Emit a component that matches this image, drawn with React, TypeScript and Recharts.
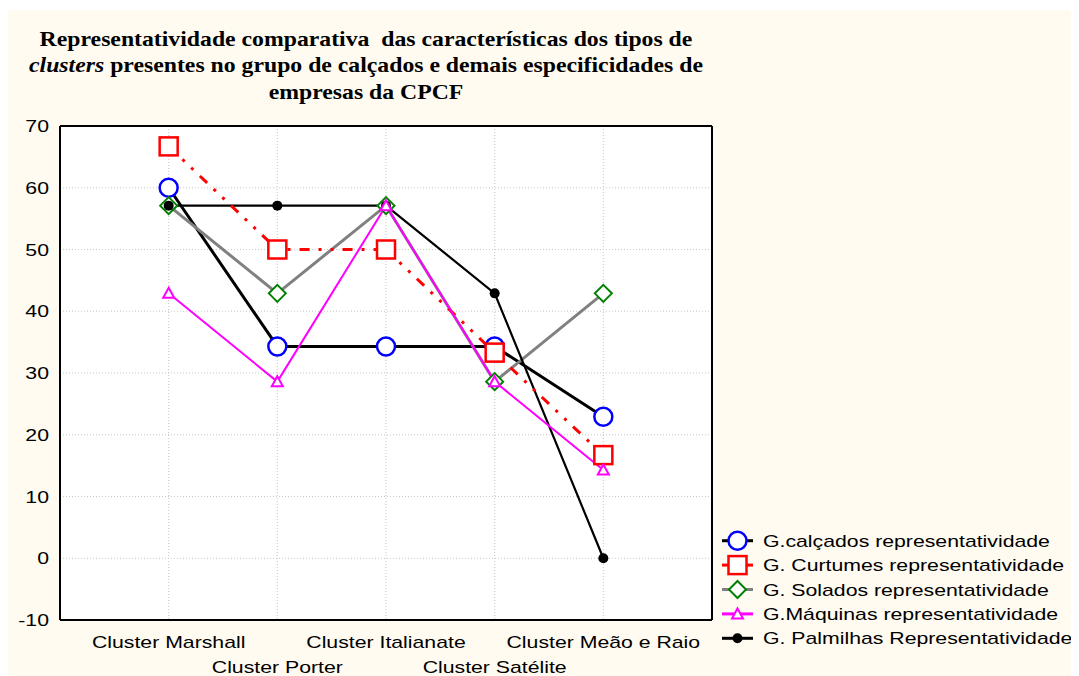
import React from 'react';
import { LineChart, Line, XAxis, YAxis, CartesianGrid } from 'recharts';

const categories = ['Cluster Marshall', 'Cluster Porter', 'Cluster Italianate', 'Cluster Satélite', 'Cluster Meão e Raio'];
const calcados = [60, 34.3, 34.3, 34.3, 22.9];
const curtumes = [66.7, 50, 50, 33.3, 16.7];
const solados = [57.1, 42.9, 57.1, 28.6, 42.9];
const maquinas = [42.9, 28.6, 57.1, 28.6, 14.3];
const palmilhas = [57.1, 57.1, 57.1, 42.9, 0];
const yTicks = [-10, 0, 10, 20, 30, 40, 50, 60, 70];
const xTicks = [1, 2, 3, 4, 5];
const legendNames = [
  'G.calçados representatividade',
  'G. Curtumes representatividade',
  'G. Solados representatividade',
  'G.Máquinas representatividade',
  'G. Palmilhas Representatividade',
];

const data = categories.map((c, i) => ({
  pos: i + 1,
  name: c,
  calcados: calcados[i],
  curtumes: curtumes[i],
  solados: solados[i],
  maquinas: maquinas[i],
  palmilhas: palmilhas[i],
}));

const SANS = '"Liberation Sans", Arial, Helvetica, sans-serif';
const SX = 1.25;
const FS = 17;

const CircleMark = (cx: number, cy: number, key?: any) => (
  <circle key={key} cx={cx} cy={cy} r={9} fill="#ffffff" stroke="#0000ff" strokeWidth={2.5} />
);
const SquareMark = (cx: number, cy: number, key?: any) => (
  <rect key={key} x={cx - 9} y={cy - 9} width={18} height={18} fill="#ffffff" stroke="#ff0000" strokeWidth={2.5} />
);
const DiamondMark = (cx: number, cy: number, key?: any) => (
  <polygon key={key} points={`${cx},${cy - 8.5} ${cx + 8.5},${cy} ${cx},${cy + 8.5} ${cx - 8.5},${cy}`} fill="#ffffff" stroke="#008000" strokeWidth={2} />
);
const TriangleMark = (cx: number, cy: number, key?: any) => (
  <polygon key={key} points={`${cx},${cy - 5.5} ${cx + 5.5},${cy + 4.5} ${cx - 5.5},${cy + 4.5}`} fill="#ffffff" stroke="#ff00ff" strokeWidth={2} />
);
const DotMark = (cx: number, cy: number, key?: any) => (
  <circle key={key} cx={cx} cy={cy} r={5} fill="#000000" stroke="none" />
);

const mk = (fn: any) => (p: any) => fn(p.cx, p.cy, `m-${p.index}`);

const XTick = (props: any) => {
  const { x, y, payload, index } = props;
  const label = categories[payload.value - 1] || '';
  const dy = index % 2 === 1 ? 53 : 28;
  return (
    <g transform={`translate(${x},${y + dy}) scale(${SX},1)`}>
      <text x={0} y={0} textAnchor="middle" fontFamily={SANS} fontSize={FS} fill="#000">{label}</text>
    </g>
  );
};

const YTick = (props: any) => {
  const { x, y, payload } = props;
  return (
    <g transform={`translate(${x},${y}) scale(${SX},1)`}>
      <text x={0} y={0} dy={6} textAnchor="end" fontFamily={SANS} fontSize={FS} fill="#000">{payload.value}</text>
    </g>
  );
};

const legendIcons = [
  { line: '#000000', mark: CircleMark },
  { line: '#ff0000', mark: SquareMark },
  { line: '#808080', mark: DiamondMark },
  { line: '#ff00ff', mark: TriangleMark },
  { line: '#000000', mark: DotMark },
];

export default function App() {
  return (
    <div style={{ position: 'relative', width: 1071, height: 666, marginTop: 2, background: '#fffbf0' }}>
      <div
        style={{
          position: 'absolute',
          left: 0,
          top: 15.5,
          width: 716,
          textAlign: 'center',
          fontFamily: '"Liberation Serif", "Times New Roman", serif',
          fontWeight: 'bold',
          fontSize: 21,
          lineHeight: '26.7px',
          color: '#000',
          whiteSpace: 'nowrap',
          transform: 'scaleX(1.13)',
          transformOrigin: '358px 0',
        }}
      >
        Representatividade comparativa&nbsp; das características dos tipos de
        <br />
        <i>clusters</i> presentes no grupo de calçados e demais especificidades de
        <br />
        empresas da CPCF
      </div>
      <div style={{ position: 'absolute', left: 0, top: 0 }}>
        <LineChart width={1071} height={666} data={data} margin={{ top: 116, right: 367, bottom: 6, left: 7 }}>
          <CartesianGrid stroke="#c8c8c8" strokeDasharray="1 2" fill="#ffffff" />
          <XAxis
            dataKey="pos"
            type="number"
            domain={[0, 6]}
            ticks={xTicks}
            allowDataOverflow
            height={50}
            tickLine={false}
            tickSize={0}
            tickMargin={0}
            axisLine={{ stroke: '#000', strokeWidth: 2 }}
            tick={<XTick />}
            interval={0}
          />
          <XAxis
            xAxisId="top"
            dataKey="pos"
            type="number"
            orientation="top"
            mirror
            domain={[0, 6]}
            ticks={xTicks}
            allowDataOverflow
            tick={false}
            tickSize={4}
            tickLine={{ stroke: '#000', strokeWidth: 1.5 }}
            axisLine={{ stroke: '#000', strokeWidth: 2 }}
          />
          <XAxis
            xAxisId="bottomIn"
            dataKey="pos"
            type="number"
            orientation="bottom"
            mirror
            domain={[0, 6]}
            ticks={xTicks}
            allowDataOverflow
            tick={false}
            tickSize={4}
            tickLine={{ stroke: '#000', strokeWidth: 1.5 }}
            axisLine={false}
          />
          <YAxis
            type="number"
            domain={[-10, 70]}
            ticks={yTicks}
            allowDataOverflow
            width={45}
            tickLine={false}
            tickSize={0}
            tickMargin={11}
            axisLine={{ stroke: '#000', strokeWidth: 2 }}
            tick={<YTick />}
            interval={0}
          />
          <YAxis
            yAxisId="right"
            type="number"
            orientation="right"
            mirror
            domain={[-10, 70]}
            ticks={yTicks}
            allowDataOverflow
            tick={false}
            tickSize={4}
            tickLine={{ stroke: '#000', strokeWidth: 1.5 }}
            axisLine={{ stroke: '#000', strokeWidth: 2 }}
          />
          <Line dataKey="calcados" type="linear" stroke="#000000" strokeWidth={3} dot={mk(CircleMark)} activeDot={false} isAnimationActive={false} />
          <Line dataKey="solados" type="linear" stroke="#808080" strokeWidth={3} dot={mk(DiamondMark)} activeDot={false} isAnimationActive={false} />
          <Line dataKey="palmilhas" type="linear" stroke="#000000" strokeWidth={2.2} dot={mk(DotMark)} activeDot={false} isAnimationActive={false} />
          <Line dataKey="curtumes" type="linear" stroke="#ff0000" strokeWidth={3} strokeDasharray="10 9 3 9 3 9" dot={mk(SquareMark)} activeDot={false} isAnimationActive={false} />
          <Line dataKey="maquinas" type="linear" stroke="#ff00ff" strokeWidth={2} dot={mk(TriangleMark)} activeDot={false} isAnimationActive={false} />
        </LineChart>
      </div>
      <svg style={{ position: 'absolute', left: 704, top: 510 }} width={367} height={150}>
        {legendNames.map((name, i) => {
          const cy = 20.7 + i * 24.4;
          const ic = legendIcons[i];
          return (
            <g key={name}>
              <line x1={10} y1={cy} x2={41} y2={cy} stroke={ic.line} strokeWidth={3} />
              {ic.mark(25.5, cy)}
              <g transform={`translate(51,${cy + 6}) scale(${SX},1)`}>
                <text x={0} y={0} fontFamily={SANS} fontSize={FS} fill="#000">{name}</text>
              </g>
            </g>
          );
        })}
      </svg>
    </div>
  );
}
